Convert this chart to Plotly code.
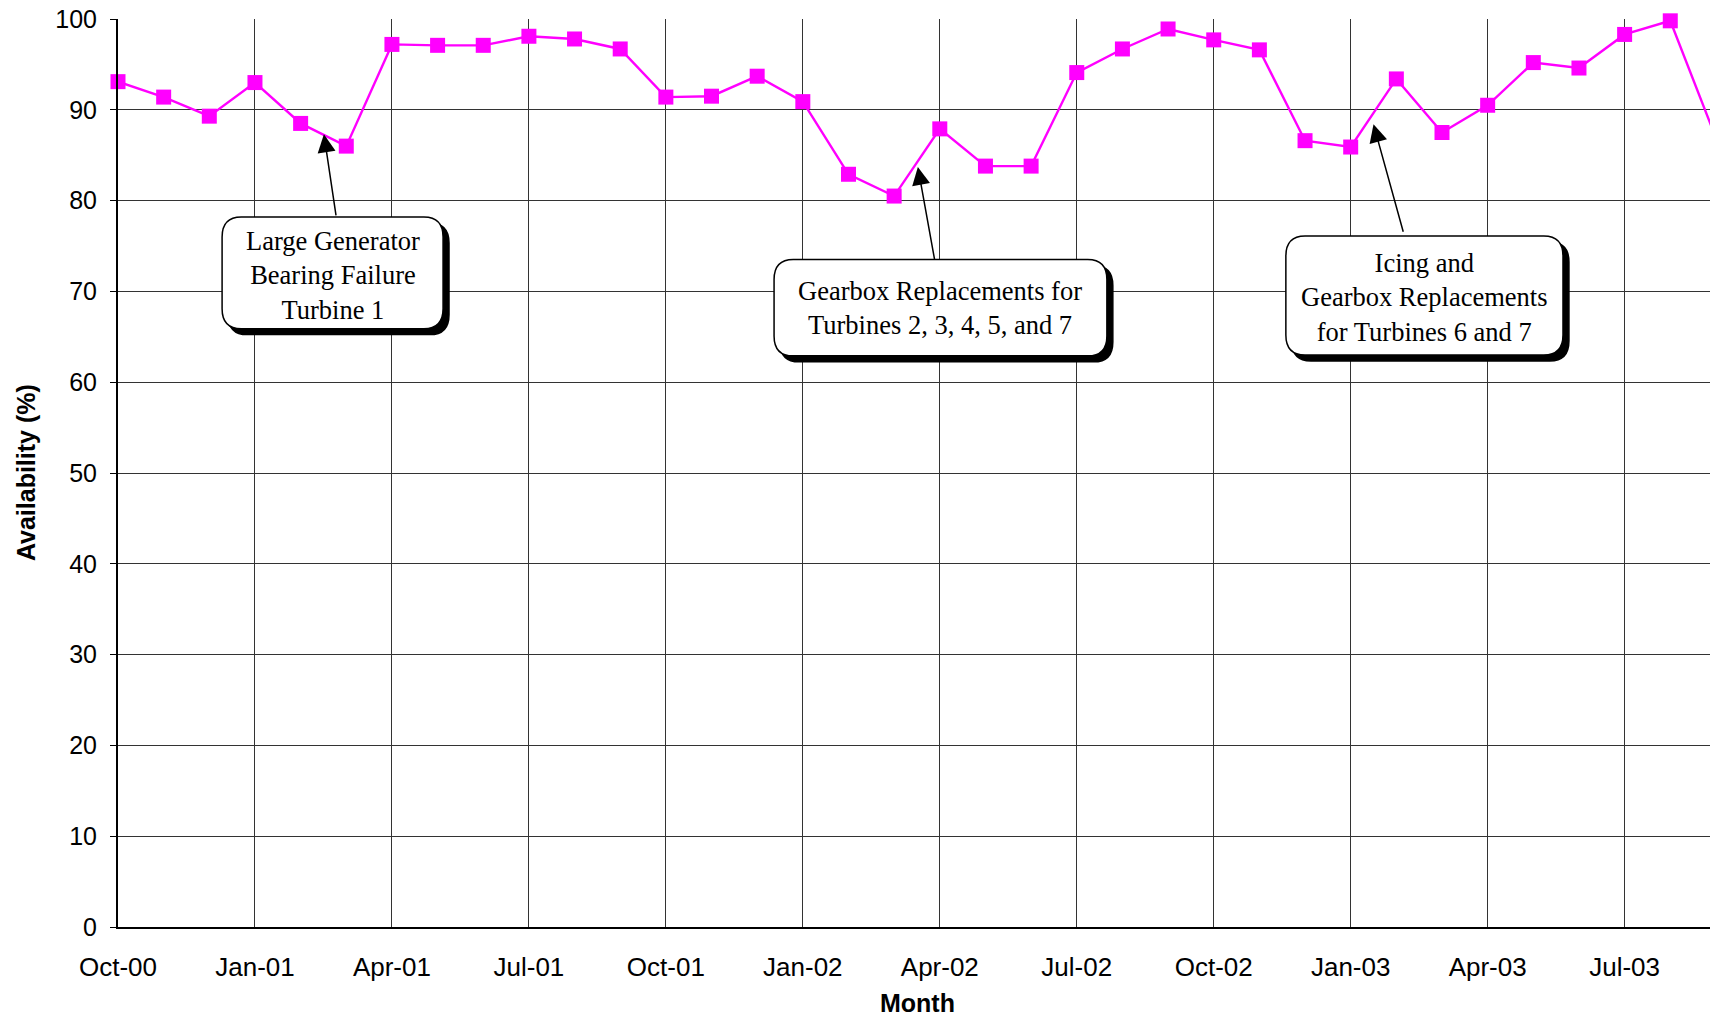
import plotly.graph_objects as go

# ---- data ----
months = ["Oct-00", "Nov-00", "Dec-00", "Jan-01", "Feb-01", "Mar-01", "Apr-01", "May-01", "Jun-01",
          "Jul-01", "Aug-01", "Sep-01", "Oct-01", "Nov-01", "Dec-01", "Jan-02", "Feb-02", "Mar-02",
          "Apr-02", "May-02", "Jun-02", "Jul-02", "Aug-02", "Sep-02", "Oct-02", "Nov-02", "Dec-02",
          "Jan-03", "Feb-03", "Mar-03", "Apr-03", "May-03", "Jun-03", "Jul-03", "Aug-03", "Sep-03"]
availability = [93.1, 91.4, 89.3, 93.0, 88.5, 86.0, 97.2, 97.1, 97.1,
                98.1, 97.8, 96.7, 91.4, 91.5, 93.7, 90.9, 82.9, 80.5,
                87.9, 83.8, 83.8, 94.1, 96.7, 98.9, 97.7, 96.6, 86.6,
                85.9, 93.4, 87.5, 90.5, 95.2, 94.6, 98.3, 99.8, 86.9]
tick_labels = ["Oct-00", "Jan-01", "Apr-01", "Jul-01", "Oct-01", "Jan-02",
               "Apr-02", "Jul-02", "Oct-02", "Jan-03", "Apr-03", "Jul-03"]
y_ticks = [0, 10, 20, 30, 40, 50, 60, 70, 80, 90, 100]

x_idx = list(range(len(months)))
tick_idx = [months.index(t) for t in tick_labels]

SANS = "Liberation Sans, Arial, sans-serif"
SERIF = "Liberation Serif, Times New Roman, serif"

fig = go.Figure()
fig.add_trace(go.Scatter(
    x=x_idx, y=availability, mode="lines+markers",
    line=dict(color="#FF00FF", width=2.4),
    marker=dict(symbol="square", size=15, color="#FF00FF"),
    cliponaxis=False, showlegend=False,
))

# ---- callout boxes (month-index / % units) ----
boxes = [
    dict(x0=2.28, x1=7.12, y0=65.9, y1=78.2, shift=-3,
         text="Large Generator<br>Bearing Failure<br>Turbine 1",
         tip=(4.51, 87.3), tail=(4.78, 78.2)),
    dict(x0=14.37, x1=21.66, y0=62.9, y1=73.5, shift=0,
         text="Gearbox Replacements for<br>Turbines 2, 3, 4, 5, and 7",
         tip=(17.52, 83.7), tail=(17.89, 73.4)),
    dict(x0=25.58, x1=31.65, y0=63.0, y1=76.1, shift=-2,
         text="Icing and<br>Gearbox Replacements<br>for Turbines 6 and 7",
         tip=(27.5, 88.4), tail=(28.16, 76.4)),
]

rx, ry = 0.42, 2.2      # corner radius
sdx, sdy = 0.13, 0.66   # shadow offset


def rounded(x0, x1, y0, y1):
    return (f"M {x0+rx},{y1} L {x1-rx},{y1} Q {x1},{y1} {x1},{y1-ry} "
            f"L {x1},{y0+ry} Q {x1},{y0} {x1-rx},{y0} L {x0+rx},{y0} "
            f"Q {x0},{y0} {x0},{y0+ry} L {x0},{y1-ry} Q {x0},{y1} {x0+rx},{y1} Z")


shapes = []
annotations = []
for b in boxes:
    shapes.append(dict(type="path", xref="x", yref="y",
                       path=rounded(b["x0"] + sdx, b["x1"] + sdx, b["y0"] - sdy, b["y1"] - sdy),
                       fillcolor="black", line=dict(color="black", width=1.5), layer="above"))
    shapes.append(dict(type="path", xref="x", yref="y",
                       path=rounded(b["x0"], b["x1"], b["y0"], b["y1"]),
                       fillcolor="white", line=dict(color="black", width=1.5), layer="above"))
    annotations.append(dict(x=(b["x0"] + b["x1"]) / 2, y=(b["y0"] + b["y1"]) / 2, yshift=b["shift"],
                            xref="x", yref="y", text=b["text"], showarrow=False,
                            font=dict(family=SERIF, size=26.5, color="black"), align="center"))
    annotations.append(dict(x=b["tip"][0], y=b["tip"][1], ax=b["tail"][0], ay=b["tail"][1],
                            xref="x", yref="y", axref="x", ayref="y", text="",
                            showarrow=True, arrowhead=2, arrowsize=2.4, arrowwidth=1.5,
                            arrowcolor="black", standoff=0, startstandoff=0))

annotations.append(dict(x=-0.0578, y=0.501, xref="paper", yref="paper", text="<b>Availability (%)</b>",
                        xanchor="center", yanchor="middle",
                        textangle=-90, showarrow=False, font=dict(family=SANS, size=25, color="black")))
annotations.append(dict(x=0.502, y=-0.0837, xref="paper", yref="paper", text="<b>Month</b>",
                        xanchor="center", yanchor="middle",
                        showarrow=False, font=dict(family=SANS, size=25, color="black")))

fig.update_layout(
    width=1702, height=1008,
    margin=dict(l=110, r=0, t=11, b=89, autoexpand=False),
    paper_bgcolor="white", plot_bgcolor="white",
    shapes=shapes, annotations=annotations,
    xaxis=dict(range=[0, 34.87], tickmode="array", tickvals=tick_idx, ticktext=tick_labels,
               showgrid=True, gridcolor="#333333", gridwidth=1,
               showline=True, linecolor="black", linewidth=2, ticks="",
               tickfont=dict(family=SANS, size=26, color="black"), ticklabelstandoff=16,
               ticklabeloverflow="allow", automargin=False, zeroline=False),
    yaxis=dict(range=[0, 100], tickmode="array", tickvals=y_ticks,
               showgrid=True, gridcolor="#333333", gridwidth=1,
               showline=True, linecolor="black", linewidth=2, mirror=False,
               ticks="outside", ticklen=6, tickcolor="black",
               tickfont=dict(family=SANS, size=25, color="black"), ticklabelstandoff=8,
               ticklabeloverflow="allow", automargin=False, zeroline=False),
)

fig.write_html("out.html")
